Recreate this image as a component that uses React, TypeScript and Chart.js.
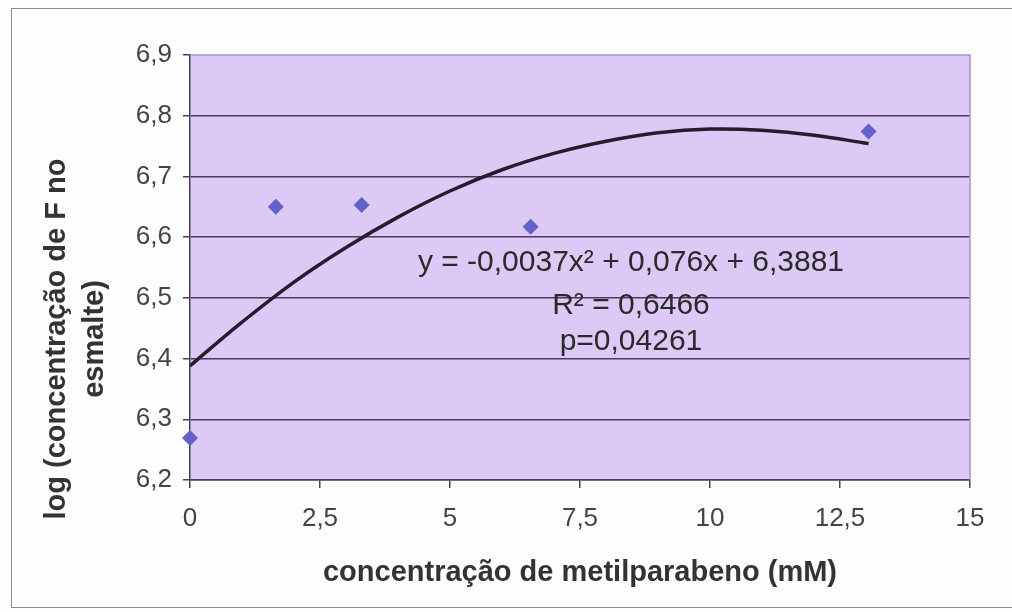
import { useEffect, useRef } from 'react';
import { Chart, registerables } from 'chart.js';

Chart.register(...registerables);

// Observed points
const concentrations = [0, 1.65, 3.3, 6.55, 13.05];
const logFluoride = [6.269, 6.65, 6.653, 6.617, 6.774];

// Polynomial trend curve as drawn in the picture
const trendX = [0, 1, 2, 3, 4, 5, 6, 7, 8, 9, 10, 11, 12, 13.05];
const trendY = [6.388, 6.46, 6.526, 6.583, 6.633, 6.676, 6.711, 6.738, 6.758, 6.772, 6.778, 6.776, 6.768, 6.754];

const xTickValues = [0, 2.5, 5, 7.5, 10, 12.5, 15];
const xTickLabels = ['0', '2,5', '5', '7,5', '10', '12,5', '15'];
const yTickValues = [6.2, 6.3, 6.4, 6.5, 6.6, 6.7, 6.8, 6.9];
const yTickLabels = ['6,2', '6,3', '6,4', '6,5', '6,6', '6,7', '6,8', '6,9'];

const xTitle = 'concentração de metilparabeno (mM)';
const yTitleLines = ['log (concentração de F no', 'esmalte)'];
const annotationLines = ['y = -0,0037x² + 0,076x + 6,3881', 'R² = 0,6466', 'p=0,04261'];

const FONT = '"Liberation Sans", Arial, sans-serif';
const DARK = '#4a3d5c';
const PLOT_BG = '#dcc9f5';

export default function App() {
  const canvasRef = useRef<HTMLCanvasElement | null>(null);

  useEffect(() => {
    const canvas = canvasRef.current;
    if (!canvas) return;

    const bgPlugin = {
      id: 'plotBg',
      beforeDraw(chart: any) {
        const { ctx, chartArea } = chart;
        const { left, top, right, bottom } = chartArea;
        ctx.save();
        ctx.fillStyle = PLOT_BG;
        ctx.fillRect(left, top, right - left, bottom - top);
        ctx.restore();
      },
      beforeDatasetsDraw(chart: any) {
        const { ctx, chartArea } = chart;
        const { left, top, right, bottom } = chartArea;
        ctx.save();
        ctx.strokeStyle = '#a991cc';
        ctx.lineWidth = 1.5;
        ctx.beginPath();
        ctx.moveTo(left, top);
        ctx.lineTo(right, top);
        ctx.lineTo(right, bottom);
        ctx.stroke();
        ctx.restore();
      },
    };

    const textPlugin = {
      id: 'texts',
      afterDraw(chart: any) {
        const { ctx } = chart;
        const xs = chart.scales.x;
        const ys = chart.scales.y;
        ctx.save();
        // y axis title (two lines, rotated)
        ctx.fillStyle = '#333333';
        ctx.font = `bold 29px ${FONT}`;
        ctx.textAlign = 'center';
        ctx.textBaseline = 'middle';
        const yTitleX = [57, 95];
        yTitleLines.forEach((line, i) => {
          ctx.save();
          ctx.translate(yTitleX[i], 339);
          ctx.rotate(-Math.PI / 2);
          ctx.fillText(line, 0, 0);
          ctx.restore();
        });
        // equation annotation
        ctx.fillStyle = '#2a2a2a';
        ctx.font = `30px ${FONT}`;
        const cx = xs.getPixelForValue(8.48);
        const annY = [6.558, 6.487, 6.427];
        annotationLines.forEach((line, i) => {
          ctx.fillText(line, cx, ys.getPixelForValue(annY[i]));
        });
        ctx.restore();
      },
    };

    const chart = new Chart(canvas, {
      type: 'scatter',
      data: {
        datasets: [
          {
            label: 'trend',
            data: trendX.map((x, i) => ({ x, y: trendY[i] })),
            showLine: true,
            borderColor: '#241d2e',
            borderWidth: 3.5,
            pointRadius: 0,
            tension: 0.4,
            fill: false,
          },
          {
            label: 'log F',
            data: concentrations.map((x, i) => ({ x, y: logFluoride[i] })),
            pointStyle: 'rectRot',
            pointRadius: 8,
            pointBackgroundColor: '#6262c8',
            pointBorderColor: '#6262c8',
            pointBorderWidth: 0,
            showLine: false,
            clip: false,
          },
        ],
      },
      options: {
        animation: false,
        responsive: false,
        events: [],
        layout: { padding: { left: 0, top: 55, right: 42, bottom: 22 } },
        plugins: {
          legend: { display: false },
          tooltip: { enabled: false },
          title: { display: false },
        },
        scales: {
          x: {
            type: 'linear',
            min: 0,
            max: 15,
            afterBuildTicks: (scale: any) => {
              scale.ticks = xTickValues.map((v) => ({ value: v }));
            },
            afterFit: (scale: any) => {
              scale.height = 110;
            },
            ticks: {
              callback: (_v: any, i: number) => xTickLabels[i],
              color: '#444444',
              font: { family: FONT, size: 26 },
              padding: 15,
              maxRotation: 0,
            },
            grid: {
              drawOnChartArea: false,
              drawTicks: true,
              tickLength: 8,
              tickColor: DARK,
              lineWidth: 1.5,
            },
            border: { color: DARK, width: 1.5 },
            title: {
              display: true,
              text: xTitle,
              color: '#333333',
              font: { family: FONT, size: 29, weight: 'bold' },
              padding: 0,
            },
          },
          y: {
            type: 'linear',
            min: 6.2,
            max: 6.9,
            afterBuildTicks: (scale: any) => {
              scale.ticks = yTickValues.map((v) => ({ value: v }));
            },
            afterFit: (scale: any) => {
              scale.width = 190;
            },
            ticks: {
              callback: (_v: any, i: number) => yTickLabels[i],
              color: '#444444',
              font: { family: FONT, size: 26 },
              padding: 11,
            },
            grid: {
              color: (ctx: any) => (Math.abs(ctx.tick.value - 6.9) < 1e-6 ? 'rgba(0,0,0,0)' : DARK),
              tickColor: DARK,
              tickLength: 7,
              lineWidth: 1.5,
            },
            border: { color: DARK, width: 1.5 },
          },
        },
      },
      plugins: [bgPlugin, textPlugin],
    } as any);

    return () => chart.destroy();
  }, []);

  return (
    <div style={{ position: 'fixed', left: 0, top: 0, width: 1012, height: 612, overflow: 'hidden', background: '#fdfdfd' }}>
      <div
        style={{
          position: 'absolute',
          left: 11,
          top: 8,
          width: 1020,
          height: 600,
          border: '1.5px solid #8c8c8c',
          boxSizing: 'border-box',
        }}
      />
      <canvas ref={canvasRef} width={1012} height={612} style={{ position: 'absolute', left: 0, top: 0 }} />
    </div>
  );
}
